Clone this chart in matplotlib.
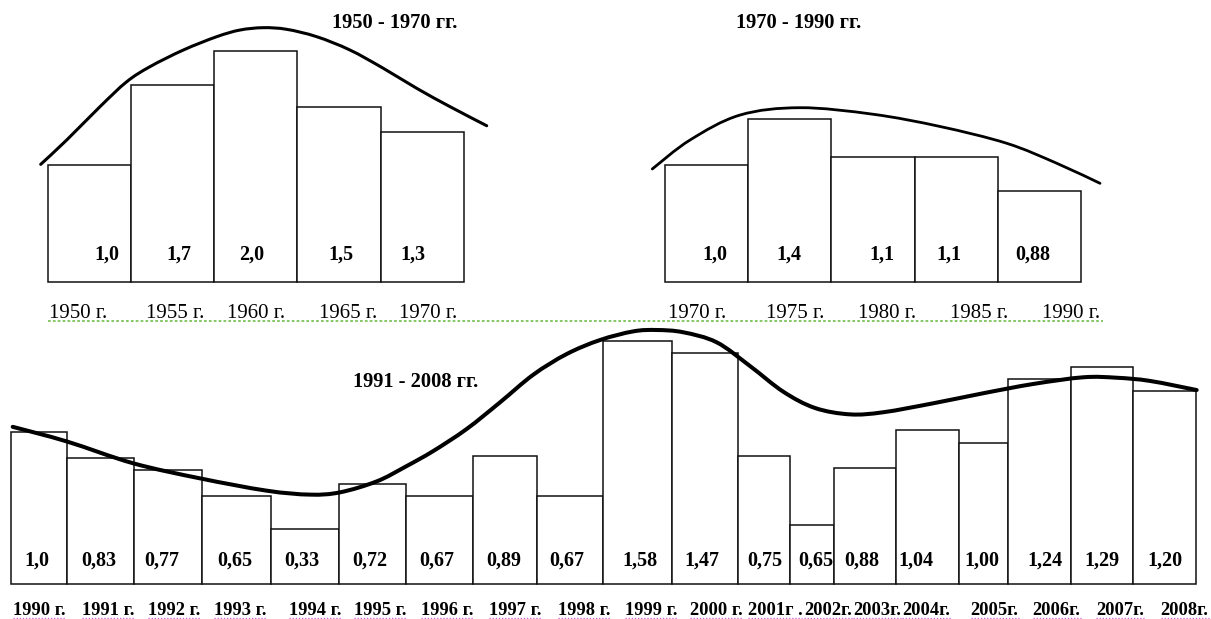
import numpy as np
import matplotlib
matplotlib.use("Agg")
import matplotlib.pyplot as plt
from matplotlib.path import Path
from matplotlib.patches import PathPatch
from matplotlib.lines import Line2D

plt.rcParams["font.family"] = ["Liberation Serif", "DejaVu Serif"]

W, H = 1211, 619

# ---- data (bar heights as drawn, relative to the first bar; labels as printed)
years_a = ["1950 г.", "1955 г.", "1960 г.", "1965 г.", "1970 г."]
values_a = ["1,0", "1,7", "2,0", "1,5", "1,3"]
heights_a = [1.00, 1.68, 1.97, 1.49, 1.28]
curve_a_x = [-7, 19, 52.3, 79, 102.3, 135.6, 169, 192.3, 215.6, 239, 269, 302.3,
             335.6, 369, 402.3, 439]
curve_a_y = [1.003, 1.211, 1.496, 1.709, 1.838, 1.980, 2.094, 2.151, 2.171, 2.157,
             2.094, 1.980, 1.824, 1.653, 1.496, 1.333]

years_b = ["1970 г.", "1975 г.", "1980 г.", "1985 г.", "1990 г."]
values_b = ["1,0", "1,4", "1,1", "1,1", "0,88"]
heights_b = [1.00, 1.39, 1.07, 1.07, 0.78]
curve_b_x = [-12.7, 25, 75, 135, 208, 275, 341.7, 391.7, 435]
curve_b_y = [0.966, 1.214, 1.428, 1.491, 1.435, 1.330, 1.186, 1.015, 0.843]

years_c = ["1990 г.", "1991 г.", "1992 г.", "1993 г.", "1994 г.", "1995 г.",
           "1996 г.", "1997 г.", "1998 г.", "1999 г.", "2000 г.", "2001г .",
           "2002г.", "2003г.", "2004г.", "2005г.", "2006г.", "2007г.", "2008г."]
values_c = ["1,0", "0,83", "0,77", "0,65", "0,33", "0,72", "0,67", "0,89", "0,67",
            "1,58", "1,47", "0,75", "0,65", "0,88", "1,04", "1,00", "1,24", "1,29", "1,20"]
heights_c = [1.00, 0.83, 0.75, 0.58, 0.36, 0.66, 0.58, 0.84, 0.58, 1.60,
             1.52, 0.84, 0.39, 0.76, 1.01, 0.93, 1.35, 1.43, 1.27]
curve_c_x = [1.7, 55.7, 122.3, 189, 255.7, 299, 329, 365.7, 394, 422.3, 455.7, 489,
             522.3, 555.7, 589, 622.3, 645.7, 672.3, 705.7, 739, 772.3, 804, 839,
             872.3, 922.3, 972.3, 1022.3, 1072.3, 1105.7, 1139, 1185.7]
curve_c_y = [1.034, 0.938, 0.794, 0.695, 0.614, 0.588, 0.603, 0.675, 0.770, 0.875,
             1.020, 1.195, 1.377, 1.513, 1.605, 1.662, 1.671, 1.656, 1.590, 1.434,
             1.265, 1.158, 1.116, 1.130, 1.189, 1.255, 1.316, 1.360, 1.357, 1.336,
             1.276]

# ---- layout
widths_c = [56, 67, 68, 69, 68, 67, 67, 64, 66, 69, 66, 52, 44, 62, 63, 49, 63, 62, 63]
val_off_a = [18, 6, -4, 2, -9]
lab_off_a = [-11, 3, 0, 9, 6]
val_off_b = [8, -1, 9, -7, -7]
lab_off_b = [-9, 5, 14, 23, 32]
val_off_c = [-2, -2, -6, -2, -3, -3, -3, -1, -3, 2, -3, 1, 4, -3, -12, -2, 5, 0, 0]
lab_off_c = [0, 8, 6, 4, 10, 8, 8, 10, 14, 14, 11, 11, 16, 12, -1, 11, 17, 18, 20]


def smooth(xs, ys):
    # bezier through the read points (Catmull-Rom handles)
    p = np.column_stack([xs, ys]).astype(float)
    verts, codes = [p[0]], [Path.MOVETO]
    n = len(p)
    for i in range(n - 1):
        a, b, c, d = p[max(i - 1, 0)], p[i], p[i + 1], p[min(i + 2, n - 1)]
        verts += [b + (c - a) / 6, c - (d - b) / 6, c]
        codes += [Path.CURVE4] * 3
    return Path(verts, codes)


fig = plt.figure(figsize=(W / 100, H / 100), dpi=100)
fig.patch.set_facecolor("white")


def panel(edge0, base, scale, widths, xlim, ytop, heights, values, labels,
          val_off, lab_off, cx, cy, val_dy, lab_dy, curve_lw, lab_weight, lab_size):
    ax = fig.add_axes([(edge0 + xlim[0]) / W, (H - base) / H,
                       (xlim[1] - xlim[0]) / W, ytop * scale / H])
    ax.set_xlim(*xlim)
    ax.set_ylim(0, ytop)
    ax.axis("off")
    widths = np.array(widths, dtype=float)
    lefts = np.concatenate([[0], np.cumsum(widths)[:-1]])
    ax.bar(lefts, heights, width=widths, align="edge", color="white",
           edgecolor="#111111", linewidth=1.1, clip_on=False)
    centers = lefts + widths / 2
    for c, v, o in zip(centers, values, val_off):
        ax.annotate(v, xy=(c + o, 0), xytext=(0, val_dy), textcoords="offset points",
                    ha="center", va="baseline", fontsize=14.5, fontweight="bold")
    texts = []
    for c, t, o in zip(centers, labels, lab_off):
        texts.append(ax.annotate(t, xy=(c + o, 0), xytext=(0, -lab_dy),
                                 textcoords="offset points", ha="center", va="baseline",
                                 fontsize=lab_size, fontweight=lab_weight,
                                 annotation_clip=False))
    ax.add_patch(PathPatch(smooth(cx, cy), fill=False, lw=curve_lw, ec="black",
                           capstyle="round", joinstyle="round", clip_on=False))
    return ax, texts


panel(47.7, 281.7, 117, [83.2] * 5, (-20, 460), 2.3, heights_a, values_a, years_a,
      val_off_a, lab_off_a, curve_a_x, curve_a_y, 15.6, 26.4, 2.2, "normal", 15)
panel(665, 281.7, 116.7, [83.2] * 5, (-20, 450), 2.3, heights_b, values_b, years_b,
      val_off_b, lab_off_b, curve_b_x, curve_b_y, 15.6, 26.4, 2.0, "normal", 15)
_, texts_c = panel(11, 584, 152, widths_c, (-11, 1200), 1.85, heights_c, values_c,
                   years_c, val_off_c, lab_off_c, curve_c_x, curve_c_y, 13.4, 22.3,
                   2.9, "bold", 13.3)

title_kw = dict(fontsize=14.8, fontweight="bold", ha="left", va="baseline")
fig.text(331.7 / W, 1 - 28.3 / H, "1950 - 1970 гг.", **title_kw)
fig.text(735.7 / W, 1 - 28.3 / H, "1970 - 1990 гг.", **title_kw)
fig.text(353.3 / W, 1 - 386.7 / H, "1991 - 2008 гг.", **title_kw)

# proofing marks under the year labels
fig.add_artist(Line2D([48 / W, 1103 / W], [1 - 321 / H] * 2, transform=fig.transFigure,
                      color="#7cc25a", lw=1.3, dashes=(1.5, 1.2)))
fig.canvas.draw()
rend = fig.canvas.get_renderer()
for t in texts_c:
    bb = t.get_window_extent(rend)
    fig.add_artist(Line2D([bb.x0 / W, bb.x1 / W], [1 - 617.5 / H] * 2,
                          transform=fig.transFigure, color="#d050d0", lw=0.9,
                          dashes=(1, 1.5)))

fig.savefig("out.png", dpi=100, facecolor="white")
